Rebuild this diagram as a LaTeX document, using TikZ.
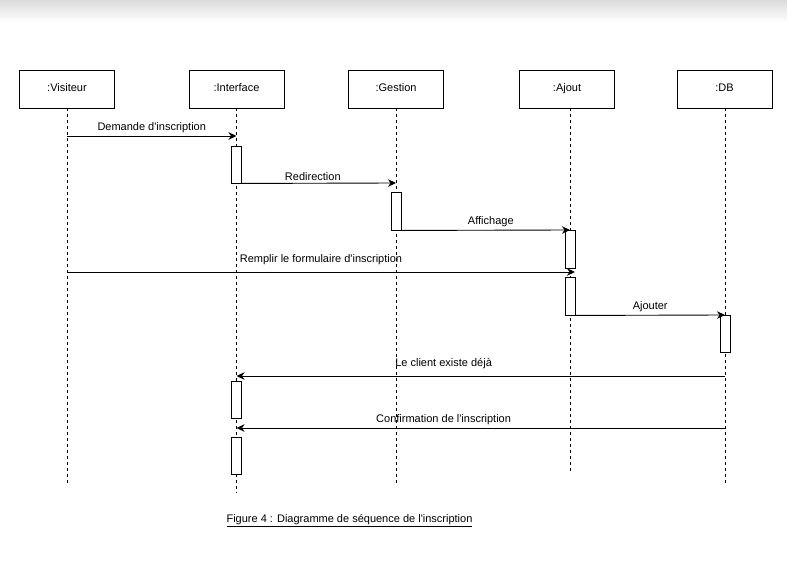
\documentclass[tikz,border=0pt]{standalone}
\usepackage{fontspec}
\setmainfont{Liberation Sans}[Ligatures=TeXOff]
\usetikzlibrary{arrows.meta}
\begin{document}
\begin{tikzpicture}[x=1pt,y=-1pt,
  obj/.style={draw, line width=0.8pt, minimum width=95pt, minimum height=38pt, inner sep=0pt, text height=8pt, text depth=2pt, font=\fontsize{11}{13}\selectfont},
  life/.style={draw, line width=0.7pt, dash pattern=on 3pt off 3pt},
  act/.style={draw, line width=0.9pt, fill=white, minimum width=10pt, inner sep=0pt},
  msg/.style={draw, line width=0.9pt, -{Stealth[length=8pt,width=7.5pt,inset=2.5pt]}},
  lbl/.style={font=\fontsize{11}{13}\selectfont, inner sep=1pt, anchor=south, yshift=1.5pt}
]
\useasboundingbox (0,0) rectangle (787,561);
\shade[top color=black!14, bottom color=white] (0,0) rectangle (787,22);
% objects
\node[obj] (vis) at (67,89) {:Visiteur};
\node[obj] (int) at (236.5,89) {:Interface};
\node[obj] (ges) at (396,89) {:Gestion};
\node[obj] (ajo) at (567,89) {:Ajout};
\node[obj] (db) at (724.5,89) {:DB};
% lifeline ends
\coordinate (visE) at (67,484);
\coordinate (intE) at (236.5,493);
\coordinate (gesE) at (396,484);
\coordinate (ajoE) at (570,471);
\coordinate (dbE) at (725,484);
\draw[life] (vis.south) -- (visE);
\draw[life] (int.south) -- (intE);
\draw[life] (ges.south) -- (gesE);
\draw[life] (ajo.south -| ajoE) -- (ajoE);
\draw[life] (db.south -| dbE) -- (dbE);
% activations
\node[act, minimum height=37pt] (a1) at (236.5,164.5) {};
\node[act, minimum height=38pt] (a2) at (396,211) {};
\node[act, minimum height=38pt] (a3) at (570,249) {};
\node[act, minimum height=38pt] (a4) at (570,296) {};
\node[act, minimum height=37pt] (a5) at (725,333.5) {};
\node[act, minimum height=37pt] (a6) at (236.5,399.5) {};
\node[act, minimum height=37pt] (a7) at (236.5,455.5) {};
% message end points
\coordinate (m1s) at (67,136);
\coordinate (m1e) at (236.5,136);
\coordinate (m2e) at (396,183);
\coordinate (m3e) at (570,230);
\coordinate (m4s) at (67,272);
\coordinate (m4e) at (575,272);
\coordinate (m5e) at (725,315);
\coordinate (m6s) at (725,376);
\coordinate (m6e) at (236.5,376);
\coordinate (m7s) at (725,428);
\coordinate (m7e) at (236.5,428);
% messages
\draw[msg] (m1s) -- node[lbl, pos=0.5] {Demande d'inscription} (m1e);
\draw[msg] (a1.south east) -- node[lbl, pos=0.46] {Redirection} (m2e);
\draw[msg] (a2.south east) -- node[lbl, pos=0.53] {Affichage} (m3e);
\draw[msg] (m4s) -- node[lbl, pos=0.5, yshift=4pt] {Remplir le formulaire d'inscription} (m4e);
\draw[msg] (a4.south east) -- node[lbl, pos=0.5] {Ajouter} (m5e);
\draw[msg] (m6s) -- node[lbl, pos=0.576, yshift=4.5pt] {Le client existe déjà} (m6e);
\draw[msg] (m7s) -- node[lbl, pos=0.576] {Confirmation de l'inscription} (m7e);
% caption
\node[font=\fontsize{11}{13}\selectfont, inner sep=0pt] (cap) at (349.5,521) {\underline{Figure 4 : Diagramme de séquence de l'inscription}};
\end{tikzpicture}
\end{document}
